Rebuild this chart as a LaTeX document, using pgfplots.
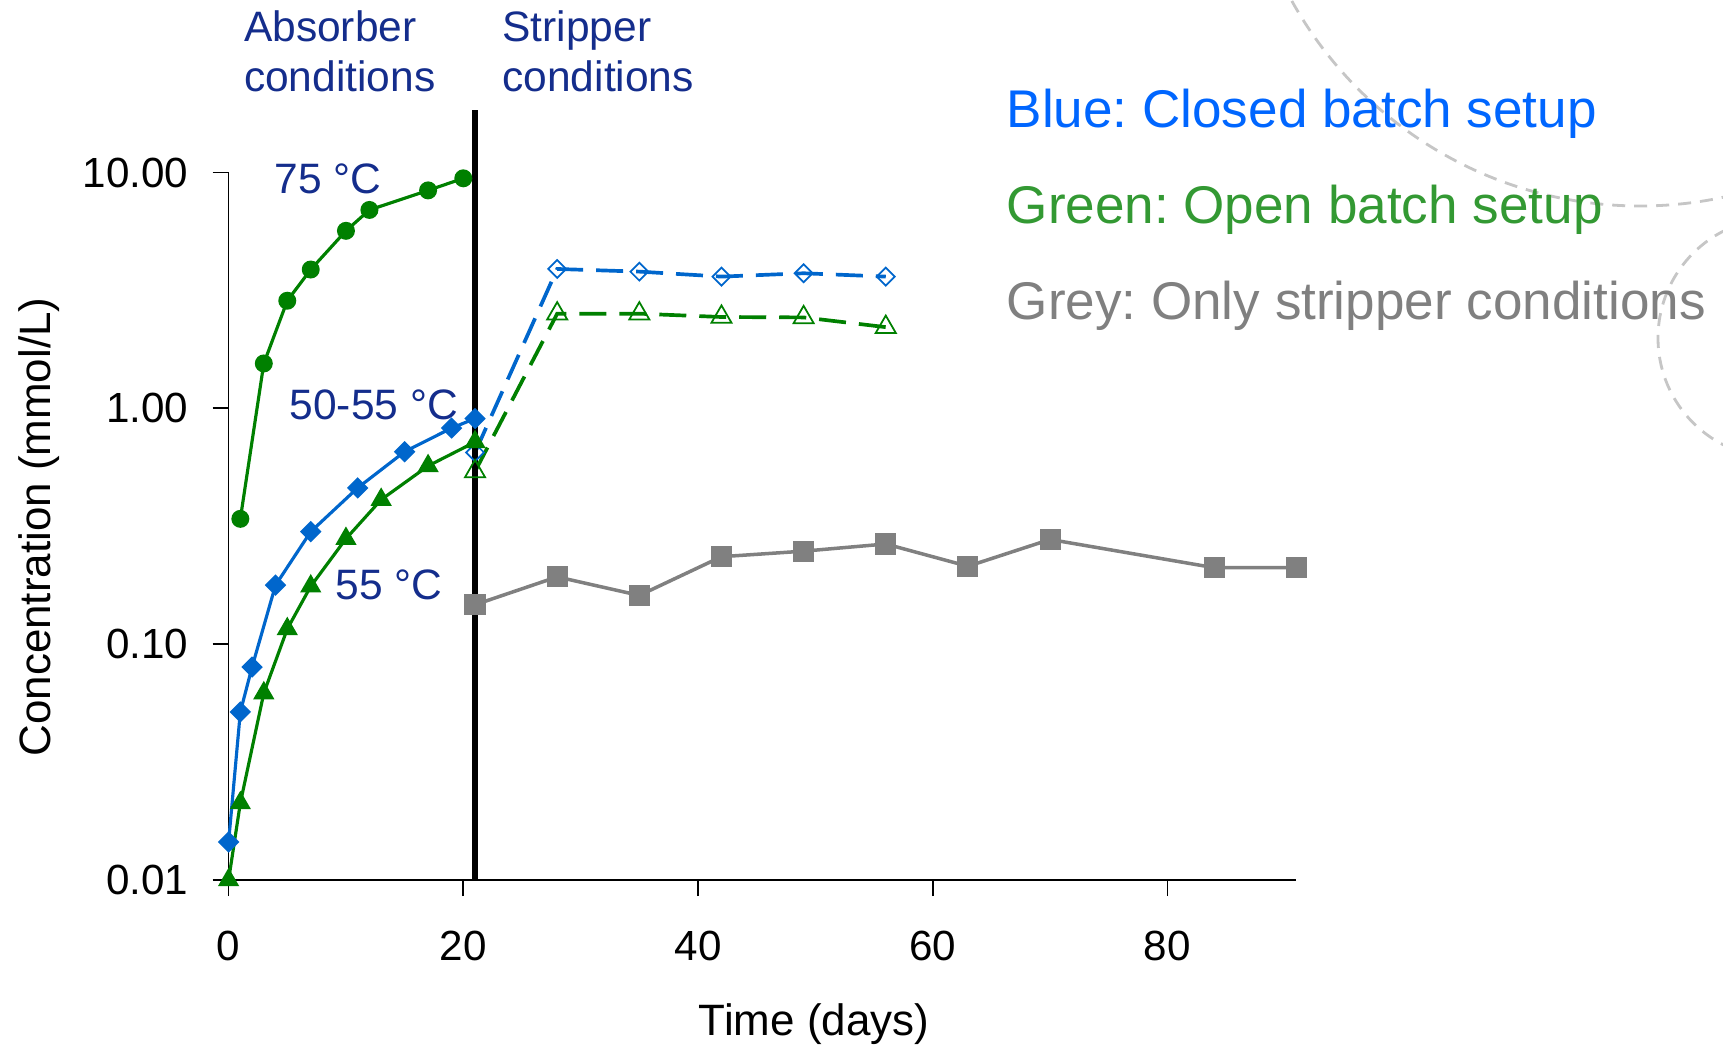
\documentclass[border=0pt]{standalone}
\usepackage{fontspec}
\setmainfont{Liberation Sans}
\usepackage{pgfplots}
\pgfplotsset{compat=1.18}
\definecolor{lblue}{RGB}{0,102,204}
\definecolor{lgreen}{RGB}{0,128,0}
\definecolor{lgrey}{RGB}{128,128,128}
\definecolor{navy}{RGB}{20,45,140}
\definecolor{tblue}{RGB}{0,102,255}
\definecolor{tgreen}{RGB}{51,153,51}
\definecolor{arcgrey}{RGB}{198,198,198}
\frenchspacing
\begin{document}
\begin{tikzpicture}
\path[use as bounding box] (0,0) rectangle (172.3mm,104.7mm);
\clip (0,0) rectangle (172.3mm,104.7mm);
% decorative background arcs
\draw[arcgrey, line width=0.8pt, dash pattern=on 1.3mm off 0.9mm] (164.0mm,123.9mm) circle (39.8mm);
\draw[arcgrey, line width=0.8pt, dash pattern=on 1.3mm off 0.9mm] (177.8mm,70.9mm) circle (12.0mm);
\begin{axis}[
  at={(22.86mm,16.7mm)}, anchor=south west,
  scale only axis, width=106.79mm, height=70.75mm,
  xmin=0, xmax=91, ymin=0.01, ymax=10, ymode=log,
  axis x line=bottom, axis y line=left,
  axis line style={-, line width=0.5pt, black},
  xtick={0,20,40,60,80},
  ytick={0.01,0.1,1,10}, yticklabels={0.01,0.10,1.00,10.00},
  yminorticks=false, xminorticks=false,
  tick align=outside, major tick length=1.6mm,
  tick style={black, line width=0.5pt},
  ticklabel style={font=\fontsize{12}{14}\selectfont},
  /pgf/number format/assume math mode=true,
  xticklabel style={yshift=-2.3mm},
  yticklabel style={xshift=-1.2mm},
  clip=false,
]
% grey: only stripper conditions
\addplot[lgrey, line width=1pt, mark=square*, mark size=2.5pt] coordinates {
  (21,0.147) (28,0.193) (35,0.161) (42,0.235) (49,0.248) (56,0.266) (63,0.214) (70,0.278) (84,0.211) (91,0.211)};
% blue dashed (closed batch, stripper)
\addplot[lblue, line width=1.05pt, dash pattern=on 2.7mm off 1.3mm, mark=square, mark size=1.8pt,
  mark options={solid, rotate=45, fill=white, line width=0.5pt}] coordinates {
  (21,0.65) (28,3.9) (35,3.8) (42,3.62) (49,3.74) (56,3.62)};
% green dashed (open batch, stripper)
\addplot[lgreen, line width=1.05pt, dash pattern=on 2.7mm off 1.3mm, mark=triangle, mark size=3.3pt,
  mark options={solid, fill=white, line width=0.5pt}] coordinates {
  (21,0.54) (28,2.52) (35,2.52) (42,2.44) (49,2.43) (56,2.21)};
% green circles 75 C
\addplot[lgreen, line width=0.9pt, mark=*, mark size=2.1pt] coordinates {
  (1,0.34) (3,1.55) (5,2.86) (7,3.88) (10,5.66) (12,6.94) (17,8.4) (20,9.45)};
% blue diamonds 50-55 C
\addplot[lblue, line width=0.9pt, mark=square*, mark size=1.7pt, mark options={rotate=45}] coordinates {
  (0,0.0145) (1,0.0516) (2,0.080) (4,0.178) (7,0.30) (11,0.46) (15,0.655) (19,0.825) (21,0.905)};
% green triangles 55 C
\addplot[lgreen, line width=0.9pt, mark=triangle*, mark size=2.6pt] coordinates {
  (0,0.01) (1,0.0212) (3,0.062) (5,0.116) (7,0.176) (10,0.28) (13,0.41) (17,0.57) (21,0.72)};
% vertical separator
\addplot[black, line width=1.8pt, mark=none] coordinates {(21,0.01) (21,18.4)};
\end{axis}
% axis labels
\node[anchor=base, inner sep=0, font=\fontsize{12.5}{15}\selectfont] at (81.4mm,1.15mm) {Time (days)};
\node[anchor=base, inner sep=0, rotate=90, font=\fontsize{12.5}{15}\selectfont] at (5.1mm,52.0mm) {Concentration (mmol/L)};
% annotations
\begin{scope}[every node/.style={anchor=base west, inner sep=0, text=navy, font=\fontsize{12.1}{14}\selectfont}]
\node at (24.33mm,100.53mm) {Absorber};
\node at (24.33mm,95.53mm) {conditions};
\node at (50.17mm,100.53mm) {Stripper};
\node at (50.17mm,95.53mm) {conditions};
\node at (27.4mm,85.37mm) {75 °C};
\node at (28.9mm,62.77mm) {50-55 °C};
\node at (33.5mm,44.77mm) {55 °C};
\end{scope}
\begin{scope}[every node/.style={anchor=base west, inner sep=0, font=\fontsize{15.1}{18}\selectfont}]
\node[text=tblue] at (100.6mm,91.97mm) {Blue: Closed batch setup};
\node[text=tgreen] at (100.6mm,82.37mm) {Green: Open batch setup};
\node[text=lgrey] at (100.6mm,72.77mm) {Grey: Only stripper conditions};
\end{scope}
\end{tikzpicture}
\end{document}
